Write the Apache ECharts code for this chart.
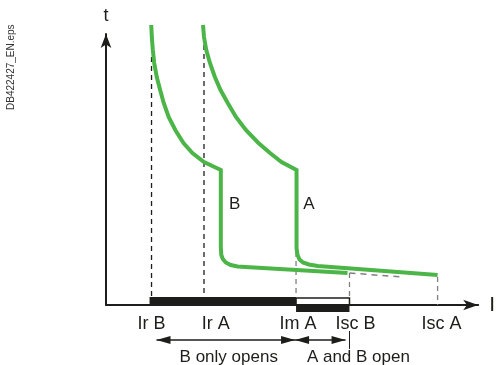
<!DOCTYPE html>
<html>
<head>
<meta charset="utf-8">
<script src="https://cdn.jsdelivr.net/npm/echarts@6/dist/echarts.min.js"></script>
<style>
    html, body { margin: 0; padding: 0; background: #fff; }
    #main { width: 498px; height: 365px; }
</style>
</head>
<body>
<div id="main"></div>
<script>
    // current (x) and time (t) in diagram units
    var curveB = [[45.7, 280], [46.3, 268], [47.3, 255], [48.7, 242], [51.3, 228], [54.7, 215], [58.3, 202],
        [63.3, 188], [70, 175], [78.3, 162], [87.3, 152], [99, 143], [116, 135],
        [116, 58], [116.5, 50], [118, 46], [121, 42.5], [126, 40], [133, 38.5], [141, 38], [244, 32]];
    var curveA = [[98, 280], [99, 268], [101.3, 255], [105, 242], [110, 228], [115.7, 215], [123, 202],
        [131.3, 188], [141.3, 175], [154, 162], [165.7, 152], [177.3, 143], [192.5, 135],
        [192.5, 57], [193.5, 50], [195.5, 45.5], [199, 42.5], [205, 40.5], [214, 39], [335, 30]];
    var curveBext = [[246, 32], [299, 28]];

    var dropNames = ["Ir B", "Ir A", "Im A", "Isc B", "Isc A"];
    var dropAt = [46, 99, 192, 246, 335];
    var dropTop = [248, 260, 53, 32, 28];
    var dropBottom = [8, 8, 8, 7, 0];
    var tickLabelAt = [46, 111, 194, 252, 339];

    // [from, to, low, high, filled]
    var bands = [[44, 192, 0, 8, 1], [192, 246, -7, 0, 1], [192, 246, 0, 7, 0]];
    // [from, to, t]
    var spans = [[51, 191, -35], [191, 242, -35]];
    var spanEnd = [[246, -26], [246, -44]];
    var notes = [{ name: "B only opens", value: [124, -52] }, { name: "A and B open", value: [255, -52] }];
    var curveNames = [{ name: "B", value: [130, 101] }, { name: "A", value: [205, 101] }];

    var INK = "#1d1d1b";
    var GREEN = "#4cb548";
    var FONT = "Liberation Sans, Arial, sans-serif";

    function renderBand(params, api) {
        var p1 = api.coord([api.value(0), api.value(3)]);
        var p2 = api.coord([api.value(1), api.value(2)]);
        var filled = api.value(4) === 1;
        return {
            type: "rect",
            shape: { x: p1[0], y: p1[1], width: p2[0] - p1[0], height: p2[1] - p1[1] },
            style: filled ? { fill: INK } : { fill: "none", stroke: INK, lineWidth: 1.5 }
        };
    }

    function renderSpan(params, api) {
        var p1 = api.coord([api.value(0), api.value(2)]);
        var p2 = api.coord([api.value(1), api.value(2)]);
        var len = 14, half = 4;
        return {
            type: "group",
            children: [
                { type: "line", shape: { x1: p1[0], y1: p1[1], x2: p2[0], y2: p2[1] }, style: { stroke: INK, lineWidth: 1.3 } },
                { type: "polygon", shape: { points: [[p1[0], p1[1]], [p1[0] + len, p1[1] - half], [p1[0] + len, p1[1] + half]] }, style: { fill: INK } },
                { type: "polygon", shape: { points: [[p2[0], p2[1]], [p2[0] - len, p2[1] - half], [p2[0] - len, p2[1] + half]] }, style: { fill: INK } }
            ]
        };
    }

    var series = [];

    // dashed drop lines
    for (var i = 0; i < dropAt.length; i++) {
        series.push({
            type: "line",
            symbol: "none",
            silent: true,
            clip: false,
            z: 1,
            data: [[dropAt[i], dropTop[i]], [dropAt[i], dropBottom[i]]],
            lineStyle: { color: i < 2 ? INK : "#808080", width: 1.3, type: [5, 4] }
        });
    }
    series.push({
        type: "line", symbol: "none", silent: true, clip: false, z: 1,
        data: curveBext,
        lineStyle: { color: "#808080", width: 1.5, type: [6, 5] }
    });

    // tripping curves
    series.push({
        type: "line", symbol: "none", clip: false, z: 3,
        data: curveB,
        lineStyle: { color: GREEN, width: 4, join: "miter" }
    });
    series.push({
        type: "line", symbol: "none", clip: false, z: 3,
        data: curveA,
        lineStyle: { color: GREEN, width: 4, join: "miter" }
    });

    series.push({ type: "custom", renderItem: renderBand, data: bands, z: 4 });
    series.push({ type: "custom", renderItem: renderSpan, data: spans, z: 4 });
    series.push({
        type: "line", symbol: "none", clip: false, z: 4,
        data: spanEnd,
        lineStyle: { color: INK, width: 1 }
    });

    series.push({
        type: "scatter", symbolSize: 0, clip: false, z: 5,
        data: notes.concat(curveNames),
        itemStyle: { opacity: 1 },
        label: {
            show: true, position: "inside",
            formatter: function (p) { return p.name; },
            color: INK, opacity: 1, fontSize: 17, fontFamily: FONT
        }
    });

    var option = {
        animation: false,
        grid: { left: 106, top: 34, width: 376, height: 271 },
        xAxis: {
            type: "value", min: 0, max: 376,
            name: "I", nameLocation: "end", nameGap: 11,
            nameTextStyle: { color: INK, fontSize: 21, fontFamily: FONT },
            axisLine: { lineStyle: { color: INK, width: 2 }, symbol: ["none", "arrow"], symbolSize: [8, 15] },
            axisTick: { show: false },
            splitLine: { show: false },
            axisLabel: {
                customValues: tickLabelAt,
                margin: 10,
                color: INK, fontSize: 18, fontFamily: FONT,
                formatter: function (v) { return dropNames[tickLabelAt.indexOf(v)] || ""; }
            }
        },
        yAxis: {
            type: "value", min: 0, max: 271,
            name: "t", nameLocation: "end", nameGap: 9,
            nameTextStyle: { color: INK, fontSize: 18, fontFamily: FONT },
            axisLine: { lineStyle: { color: INK, width: 2 }, symbol: ["none", "arrow"], symbolSize: [8, 14] },
            axisTick: { show: false },
            splitLine: { show: false },
            axisLabel: { show: false }
        },
        graphic: [{
            type: "text", x: 11, y: 110, rotation: Math.PI / 2,
            style: { text: "DB422427_EN.eps", fill: "#333", fontSize: 10, fontFamily: FONT, align: "left", verticalAlign: "middle" }
        }],
        series: series
    };

    var chart = echarts.init(document.getElementById("main"));
    chart.setOption(option);
</script>
</body>
</html>
